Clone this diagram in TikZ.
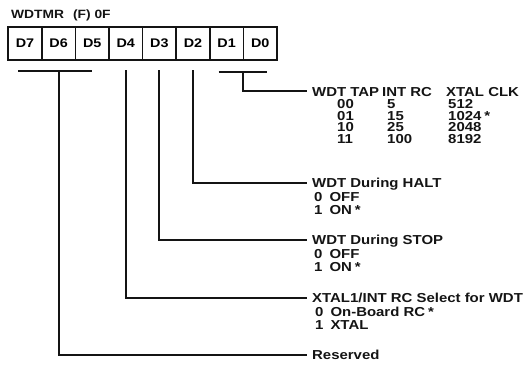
\documentclass[tikz,border=0pt]{standalone}
\usepackage{fontspec}
\setmainfont[FakeStretch=1.15]{Liberation Sans}
\usetikzlibrary{positioning}
\definecolor{ink}{HTML}{141414}
\newcommand{\capmid}{4.6pt}
\tikzset{
  bitcell/.style={
    draw=ink,
    line width=1.5pt,
    minimum width=33.6pt,
    minimum height=33pt,
    inner sep=0pt,
    outer sep=0pt,
    font=\bfseries\fontsize{12.5}{12.5}\selectfont
  },
  frame/.style={
    draw=ink,
    line width=2.4pt
  },
  wire/.style={
    draw=ink,
    line width=1.9pt
  },
  field/.style={
    anchor=base west,
    inner sep=0pt,
    text=ink,
    font=\bfseries\fontsize{13}{13}\selectfont
  }
}

\begin{document}
\begin{tikzpicture}[x=1pt, y=-1pt]
    \useasboundingbox (0,0) rectangle (525,368);
    \node[field, font=\bfseries\fontsize{12}{12}\selectfont] (title) at (11,18)
      {WDTMR\hspace{9pt}(F) 0F};
    % register cells
    \node[bitcell] (d7) at (25,43.5) {D7};
    \node[bitcell, right=0pt of d7] (d6) {D6};
    \node[bitcell, right=0pt of d6] (d5) {D5};
    \node[bitcell, right=0pt of d5] (d4) {D4};
    \node[bitcell, right=0pt of d4] (d3) {D3};
    \node[bitcell, right=0pt of d3] (d2) {D2};
    \node[bitcell, right=0pt of d2] (d1) {D1};
    \node[bitcell, right=0pt of d1] (d0) {D0};
    \draw[frame] (d7.north west) rectangle (d0.south east);

    % WDT tap table
    \node[field] (tap) at (312,96) {WDT TAP};
    \node[field] (intrc) at (382,96) {INT RC};
    \node[field] (xclk) at (446,96) {XTAL CLK};
    \foreach \code/\rc/\clk [count=\i] in {00/5/512, 01/15/{1024\hspace{3pt}*}, 10/25/2048, 11/100/8192} {
      \node[field] (code\i) at (337,{96.9+11.6*\i}) {\code};
      \node[field] (rc\i) at (387,{96.9+11.6*\i}) {\rc};
      \node[field] (clk\i) at (448,{96.9+11.6*\i}) {\clk};
    }

    % bit fields
    \node[field] (halt) at (312,187.6) {WDT During HALT};
    \node[field] (halt0) at (314,201.6) {0\hspace{7pt}OFF};
    \node[field] (halt1) at (314,214.9) {1\hspace{7pt}ON\hspace{3pt}*};
    \node[field] (stop) at (312,244.6) {WDT During STOP};
    \node[field] (stop0) at (314,258.6) {0\hspace{7pt}OFF};
    \node[field] (stop1) at (314,271.9) {1\hspace{7pt}ON\hspace{3pt}*};
    \node[field] (clksel) at (312,302.6) {XTAL1/INT RC Select for WDT};
    \node[field] (clksel0) at (315,316.6) {0\hspace{7pt}On-Board RC\hspace{3pt}*};
    \node[field] (clksel1) at (315,329.9) {1\hspace{7pt}XTAL};
    \node[field] (resv) at (312,359.6) {Reserved};

    % connectors
    \draw[wire] ([shift={(-7pt,-11pt)}]d7.south) -- ([yshift=-11pt]d5.south);
    \draw[wire] ([shift={(-8pt,-12pt)}]d1.south) -- ([shift={(7pt,-12pt)}]d0.south);
    \draw[wire] ([yshift=-12pt]d1.south east) |- ([shift={(-5pt,\capmid)}]tap.base west);
    \draw[wire] ([yshift=-10pt]d2.south) |- ([shift={(-5pt,\capmid)}]halt.base west);
    \draw[wire] ([yshift=-10pt]d3.south) |- ([shift={(-5pt,\capmid)}]stop.base west);
    \draw[wire] ([yshift=-10pt]d4.south) |- ([shift={(-5pt,\capmid)}]clksel.base west);
    \draw[wire] ([yshift=-11pt]d6.south) |- ([shift={(-5pt,\capmid)}]resv.base west);
\end{tikzpicture}
\end{document}
